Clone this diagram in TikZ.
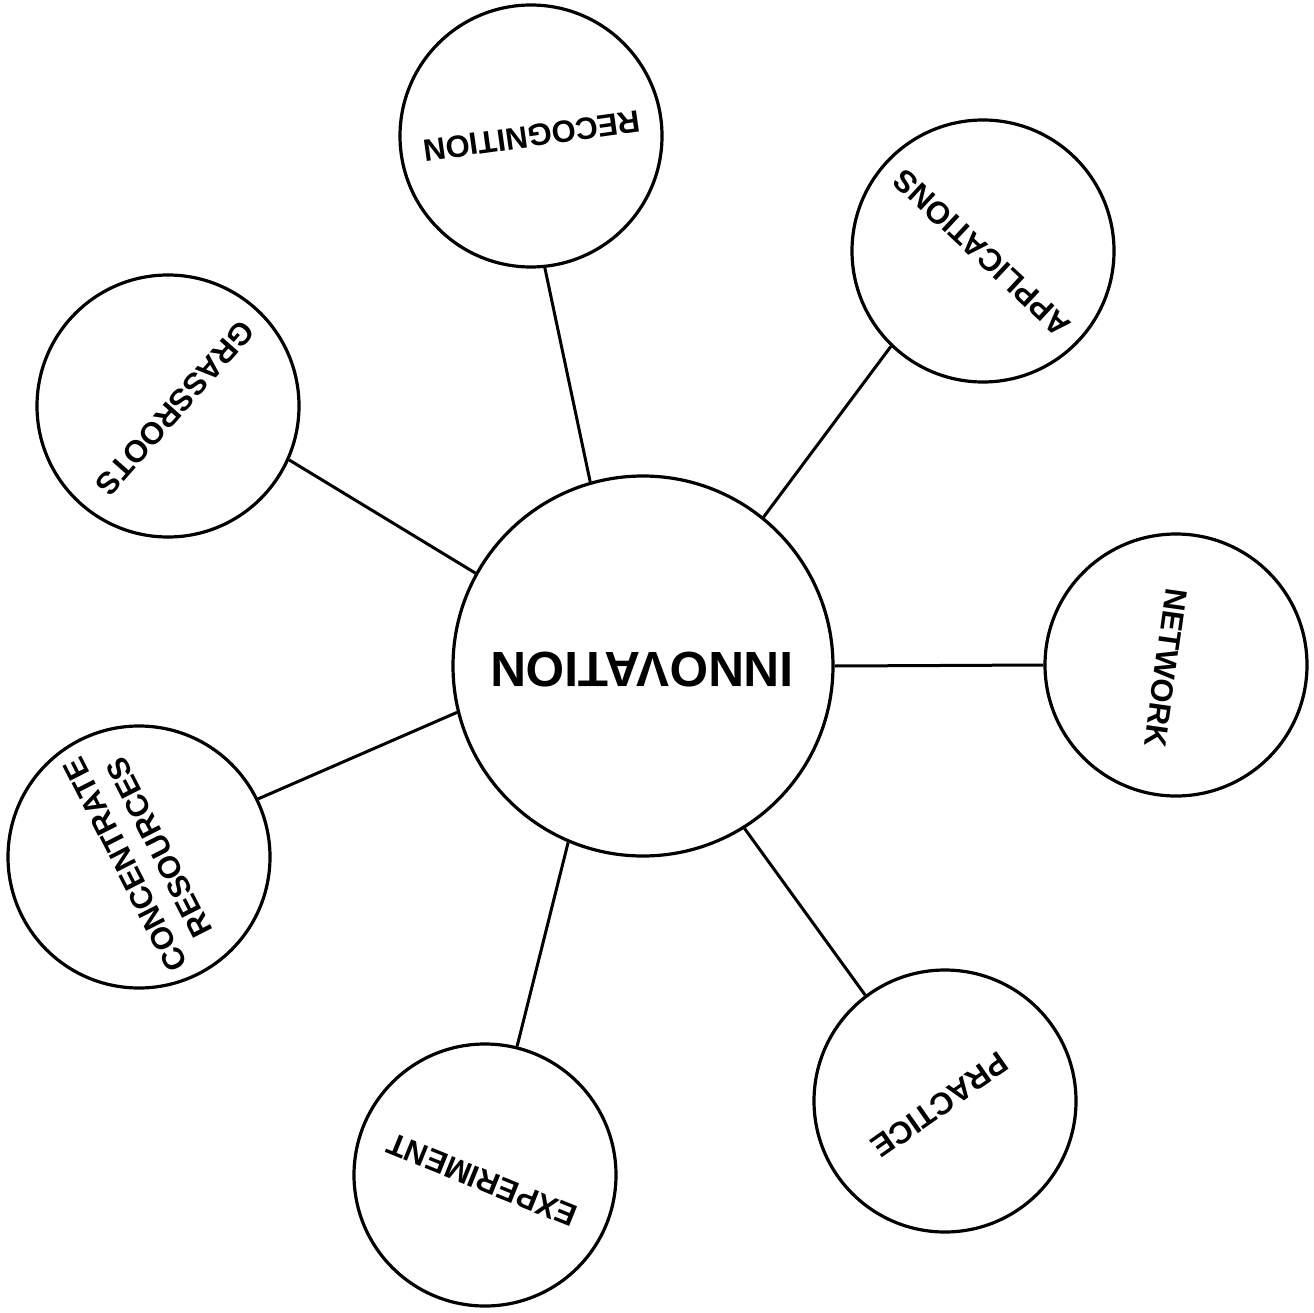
\documentclass[tikz,border=0pt]{standalone}
\usepackage{fontspec}
\setmainfont{Liberation Sans}
\begin{document}
\begin{tikzpicture}[x=1pt,y=1pt,
  bub/.style={circle,draw,line width=3.2pt,inner sep=0pt,minimum size=262pt},
  hub/.style={circle,draw,line width=3.2pt,inner sep=0pt,minimum size=380pt},
  lbl/.style={font=\bfseries\fontsize{31}{38}\selectfont,inner sep=0pt,align=center},
  biglbl/.style={font=\bfseries\fontsize{49.5}{58}\selectfont,inner sep=0pt},
  link/.style={line width=3pt}]
\useasboundingbox (0,0) rectangle (1314,-1313);
\fill[white] (0,0) rectangle (1314,-1313);
% hub
\node[hub] (inn) at (643,-666) {};
\node[biglbl,rotate=180] (tinn) at (642,-670) {INNOVATION};
% satellites
\node[bub] (rec) at (531,-136) {};
\node[bub] (app) at (983,-251) {};
\node[bub] (net) at (1176,-665) {};
\node[bub] (pra) at (945,-1101) {};
\node[bub] (exp) at (485,-1175) {};
\node[bub] (con) at (139,-857) {};
\node[bub] (gra) at (168,-406) {};
% labels
\node[lbl,rotate=188] (trec) at (532,-136) {RECOGNITION};
\node[lbl,rotate=137] (tapp) at (982,-253) {APPLICATIONS};
\node[lbl,rotate=262] (tnet) at (1166,-668) {NETWORK};
\node[lbl,rotate=215] (tpra) at (940,-1105) {PRACTICE};
\node[lbl,rotate=158] (texp) at (482,-1180) {EXPERIMENT};
\node[lbl,rotate=117] (tcon) at (142,-856) {CONCENTRATE\\RESOURCES};
\node[lbl,rotate=228.5] (tgra) at (175,-408) {GRASSROOTS};
% connectors
\draw[link] (inn.106.3) -- (rec.-84);
\draw[link] (inn.51.8) -- (app.226.8);
\draw[link] (inn.0) -- (net.180);
\draw[link] (inn.-58.1) -- (pra.127);
\draw[link] (inn.-113.2) -- (exp.76.7);
\draw[link] (inn.194.6) -- (con.26.8);
\draw[link] (inn.151.5) -- (gra.-24.2);
\end{tikzpicture}
\end{document}
